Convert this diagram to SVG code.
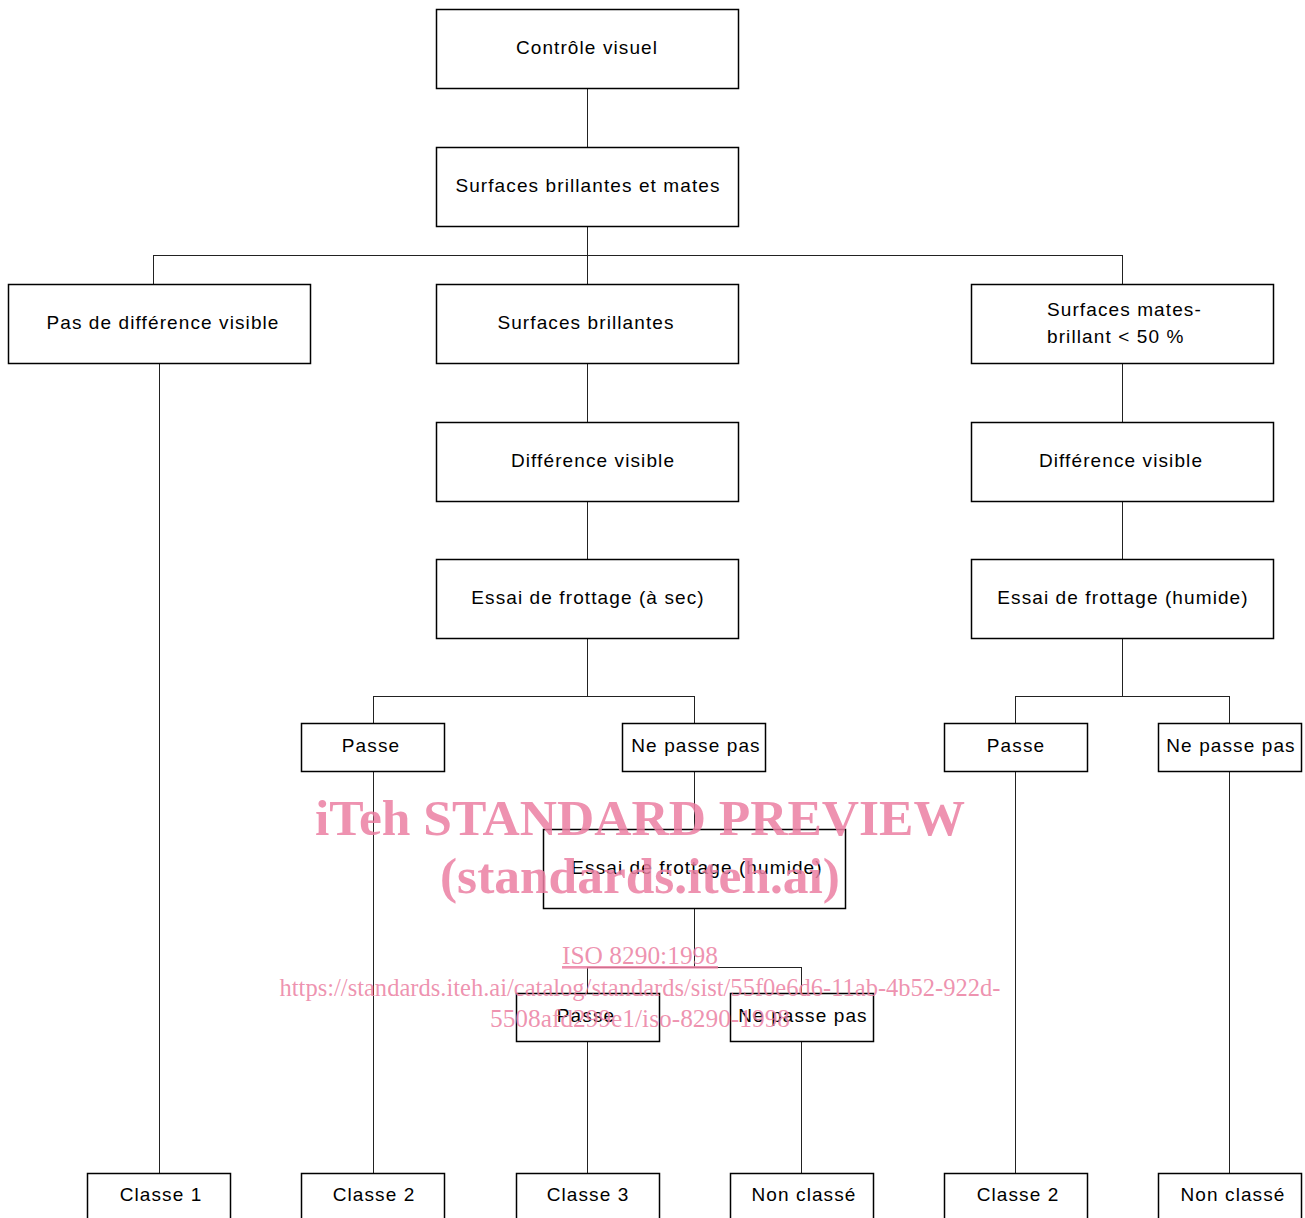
<svg xmlns="http://www.w3.org/2000/svg" width="1305" height="1218" viewBox="0 0 1305 1218">
<style>
.box{fill:#fff;stroke:#000;stroke-width:1.5}
.ln{stroke:#222;stroke-width:1;fill:none}
.t{font-family:"Liberation Sans",Arial,sans-serif;font-size:19px;letter-spacing:1.1px;fill:#000;text-anchor:middle}
.tl{font-family:"Liberation Sans",Arial,sans-serif;font-size:19px;letter-spacing:1.1px;fill:#000}
.wm{font-family:"Liberation Serif","Times New Roman",serif;fill:#eb7fa2;fill-opacity:0.85;text-anchor:middle}
</style>
<rect width="1305" height="1218" fill="#fff"/>
<g id="connectors">
<path class="ln" d="M587.5 88V147M587.5 226V284M153.5 255.5H1122.5M153.5 255V284M1122.5 255V284M159.5 363V1173M587.5 363V422M587.5 501V559M1122.5 363V422M1122.5 501V559M587.5 638V696.5M373.5 696.5H694.5M373.5 696V723M694.5 696V723M1122.5 638V696.5M1015.5 696.5H1229.5M1015.5 696V723M1229.5 696V723M373.5 771V1173M694.5 771V829M694.5 908V967.5M587.5 967.5H801.5M587.5 967V993M801.5 967V993M587.5 1041V1173M801.5 1041V1173M1015.5 771V1173M1229.5 771V1173"/>
</g>
<g id="n1"><rect class="box" x="436.5" y="9.5" width="302" height="79"/><text class="t" x="587" y="54">Contrôle visuel</text></g>
<g id="n2"><rect class="box" x="436.5" y="147.5" width="302" height="79"/><text class="t" x="588" y="192">Surfaces brillantes et mates</text></g>
<g id="n3a"><rect class="box" x="8.5" y="284.5" width="302" height="79"/><text class="t" x="163" y="329">Pas de différence visible</text></g>
<g id="n3b"><rect class="box" x="436.5" y="284.5" width="302" height="79"/><text class="t" x="586" y="329">Surfaces brillantes</text></g>
<g id="n3c"><rect class="box" x="971.5" y="284.5" width="302" height="79"/><text class="tl" x="1047" y="316">Surfaces mates-</text><text class="tl" x="1047" y="343">brillant &lt; 50 %</text></g>
<g id="n4b"><rect class="box" x="436.5" y="422.5" width="302" height="79"/><text class="t" x="593" y="467">Différence visible</text></g>
<g id="n4c"><rect class="box" x="971.5" y="422.5" width="302" height="79"/><text class="t" x="1121" y="467">Différence visible</text></g>
<g id="n5b"><rect class="box" x="436.5" y="559.5" width="302" height="79"/><text class="t" x="588" y="604">Essai de frottage (à sec)</text></g>
<g id="n5c"><rect class="box" x="971.5" y="559.5" width="302" height="79"/><text class="t" x="1123" y="604">Essai de frottage (humide)</text></g>
<g id="p1"><rect class="box" x="301.5" y="723.5" width="143" height="48"/><text class="t" x="371" y="752">Passe</text></g>
<g id="np1"><rect class="box" x="622.5" y="723.5" width="143" height="48"/><text class="t" x="696" y="752">Ne passe pas</text></g>
<g id="p2"><rect class="box" x="944.5" y="723.5" width="143" height="48"/><text class="t" x="1016" y="752">Passe</text></g>
<g id="np2"><rect class="box" x="1158.5" y="723.5" width="143" height="48"/><text class="t" x="1231" y="752">Ne passe pas</text></g>
<g id="mid"><rect class="box" x="543.5" y="829.5" width="302" height="79"/><text class="t" x="697" y="874">Essai de frottage (humide)</text></g>
<g id="p3"><rect class="box" x="516.5" y="993.5" width="143" height="48"/><text class="t" x="586" y="1022">Passe</text></g>
<g id="np3"><rect class="box" x="730.5" y="993.5" width="143" height="48"/><text class="t" x="803" y="1022">Ne passe pas</text></g>
<g id="c1"><rect class="box" x="87.5" y="1173.5" width="143" height="60"/><text class="t" x="161" y="1201">Classe 1</text></g>
<g id="c2"><rect class="box" x="301.5" y="1173.5" width="143" height="60"/><text class="t" x="374" y="1201">Classe 2</text></g>
<g id="c3"><rect class="box" x="516.5" y="1173.5" width="143" height="60"/><text class="t" x="588" y="1201">Classe 3</text></g>
<g id="c4"><rect class="box" x="730.5" y="1173.5" width="143" height="60"/><text class="t" x="804" y="1201">Non classé</text></g>
<g id="c5"><rect class="box" x="944.5" y="1173.5" width="143" height="60"/><text class="t" x="1018" y="1201">Classe 2</text></g>
<g id="c6"><rect class="box" x="1158.5" y="1173.5" width="143" height="60"/><text class="t" x="1233" y="1201">Non classé</text></g>
<g id="watermark">
<text class="wm" x="640" y="835" font-size="51" font-weight="bold" textLength="650" lengthAdjust="spacingAndGlyphs">iTeh STANDARD PREVIEW</text>
<text class="wm" x="640" y="893" font-size="51" font-weight="bold" textLength="400" lengthAdjust="spacingAndGlyphs">(standards.iteh.ai)</text>
<text class="wm" x="640" y="964" font-size="26" text-decoration="underline" textLength="156" lengthAdjust="spacingAndGlyphs">ISO 8290:1998</text>
<text class="wm" x="640" y="996" font-size="26" textLength="721" lengthAdjust="spacingAndGlyphs">https://standards.iteh.ai/catalog/standards/sist/55f0e6d6-11ab-4b52-922d-</text>
<text class="wm" x="640" y="1027" font-size="26" textLength="300" lengthAdjust="spacingAndGlyphs">5508afd299e1/iso-8290-1998</text>
</g>
</svg>
